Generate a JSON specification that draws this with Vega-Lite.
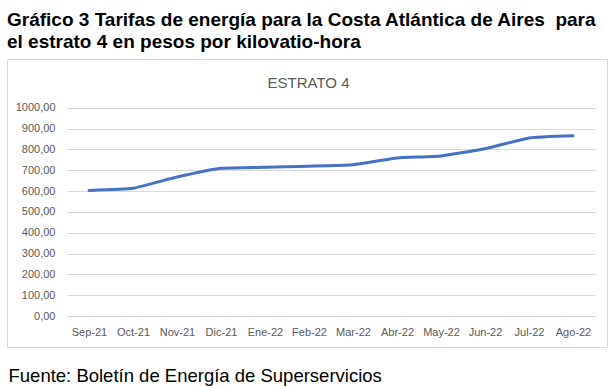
{
  "$schema": "https://vega.github.io/schema/vega-lite/v6.json",
  "width": 600,
  "height": 288,
  "autosize": {"type": "none"},
  "padding": {"left": 7, "top": 59, "right": 3, "bottom": 39},
  "background": "white",
  "title": {
    "text": ["Gráfico 3 Tarifas de energía para la Costa Atlántica de Aires\u00a0 para", "el estrato 4 en pesos por kilovatio-hora"],
    "anchor": "start",
    "frame": "group",
    "orient": "top",
    "font": "Liberation Sans",
    "fontSize": 19,
    "fontWeight": "bold",
    "color": "#000000",
    "lineHeight": 22.5,
    "offset": -8,
    "baseline": "alphabetic"
  },
  "data": {
    "values": [
      {"mes": "Sep-21", "tarifa": 603},
      {"mes": "Oct-21", "tarifa": 613},
      {"mes": "Nov-21", "tarifa": 667},
      {"mes": "Dic-21", "tarifa": 709},
      {"mes": "Ene-22", "tarifa": 714},
      {"mes": "Feb-22", "tarifa": 719},
      {"mes": "Mar-22", "tarifa": 726},
      {"mes": "Abr-22", "tarifa": 758},
      {"mes": "May-22", "tarifa": 768},
      {"mes": "Jun-22", "tarifa": 803},
      {"mes": "Jul-22", "tarifa": 855},
      {"mes": "Ago-22", "tarifa": 865}
    ]
  },
  "mark": {"type": "line", "color": "#4472C4", "strokeWidth": 3, "interpolate": "cardinal", "tension": 0.6, "strokeCap": "round"},
  "encoding": {
    "x": {
      "field": "mes",
      "type": "ordinal",
      "sort": null,
      "scale": {"type": "point", "range": [60, 588], "padding": 0.5},
      "axis": {
        "orient": "bottom",
        "offset": -31,
        "domain": false,
        "ticks": false,
        "grid": false,
        "labelAngle": 0,
        "labelPadding": 10,
        "labelFont": "Liberation Sans",
        "labelFontSize": 11,
        "labelColor": "#595959",
        "title": "Fuente: Boletín de Energía de Superservicios",
        "titleFont": "Liberation Sans",
        "titleFontSize": 18.5,
        "titleFontWeight": "normal",
        "titleColor": "#000000",
        "titleAnchor": "start",
        "titleAlign": "left",
        "titleBaseline": "alphabetic",
        "titleX": 1,
        "titleY": 65.7
      }
    },
    "y": {
      "field": "tarifa",
      "type": "quantitative",
      "scale": {"domain": [0, 1000], "nice": false, "range": [257, 48.7]},
      "axis": {
        "orient": "left",
        "offset": -60,
        "values": [0, 100, 200, 300, 400, 500, 600, 700, 800, 900, 1000],
        "labelExpr": "replace(format(datum.value, '.2f'), '.', ',')",
        "domain": false,
        "ticks": false,
        "grid": true,
        "gridColor": "#d9d9d9",
        "gridWidth": 1,
        "labelPadding": 12,
        "labelFont": "Liberation Sans",
        "labelFontSize": 11,
        "labelColor": "#595959",
        "title": "ESTRATO 4",
        "titleAngle": 0,
        "titleFont": "Liberation Sans",
        "titleFontSize": 15,
        "titleFontWeight": "normal",
        "titleColor": "#595959",
        "titleAlign": "center",
        "titleBaseline": "alphabetic",
        "titleX": 241,
        "titleY": 28.3
      }
    }
  },
  "config": {
    "view": {"stroke": "#d9d9d9", "strokeWidth": 1}
  }
}
